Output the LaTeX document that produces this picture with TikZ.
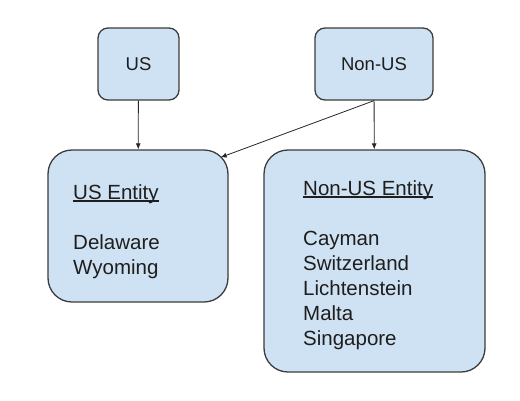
\documentclass[tikz,border=0pt]{standalone}
\usepackage{fontspec}
\setmainfont{Liberation Sans}
\usetikzlibrary{arrows.meta,calc}
\definecolor{boxfill}{RGB}{207,226,243}
\definecolor{boxline}{RGB}{60,60,60}
\definecolor{ink}{RGB}{30,30,30}
\newcommand{\titleline}[1]{\setbox0\hbox{#1}\rlap{\rule[-2.5pt]{\wd0}{1.1pt}}\box0}

\begin{document}
\begin{tikzpicture}[x=1pt,y=-1pt,
  every node/.style={text=ink,font=\fontsize{20.5}{25}\selectfont},
  box/.style={draw=boxline,fill=boxfill,line width=1.3pt},
  smallbox/.style={box,rounded corners=10pt,minimum height=72pt,font=\fontsize{18.5}{22}\selectfont},
  bigbox/.style={box,rounded corners=24pt},
  list/.style={anchor=north west,inner sep=0pt,align=left},
  flow/.style={-{Latex[length=6pt,width=5pt]},line width=.8pt,draw=black!85}]
\useasboundingbox (0,0) rectangle (520,400);
\node[smallbox,minimum width=81pt] (us) at (138.5,64) {US};
\node[smallbox,minimum width=118pt] (nonus) at (374,64) {Non-US};
\node[bigbox,minimum width=180pt,minimum height=152pt] (usent) at (138,226) {};
\node[bigbox,minimum width=221pt,minimum height=222pt] (nonusent) at (374.5,261) {};
\node[list] (uslist) at (73,184) {\titleline{US Entity}\\[25pt]Delaware\\Wyoming};
\node[list] (nonuslist) at (303,180) {\titleline{Non-US Entity}\\[25pt]Cayman\\Switzerland\\Lichtenstein\\Malta\\Singapore};
\coordinate (usentcorner) at ($(usent.north east)+(-8,8)$);
\draw[flow] (us) -- (usent);
\draw[flow] (nonus) -- (nonusent);
\draw[flow] (nonus.south) -- (usentcorner);
\end{tikzpicture}
\end{document}
